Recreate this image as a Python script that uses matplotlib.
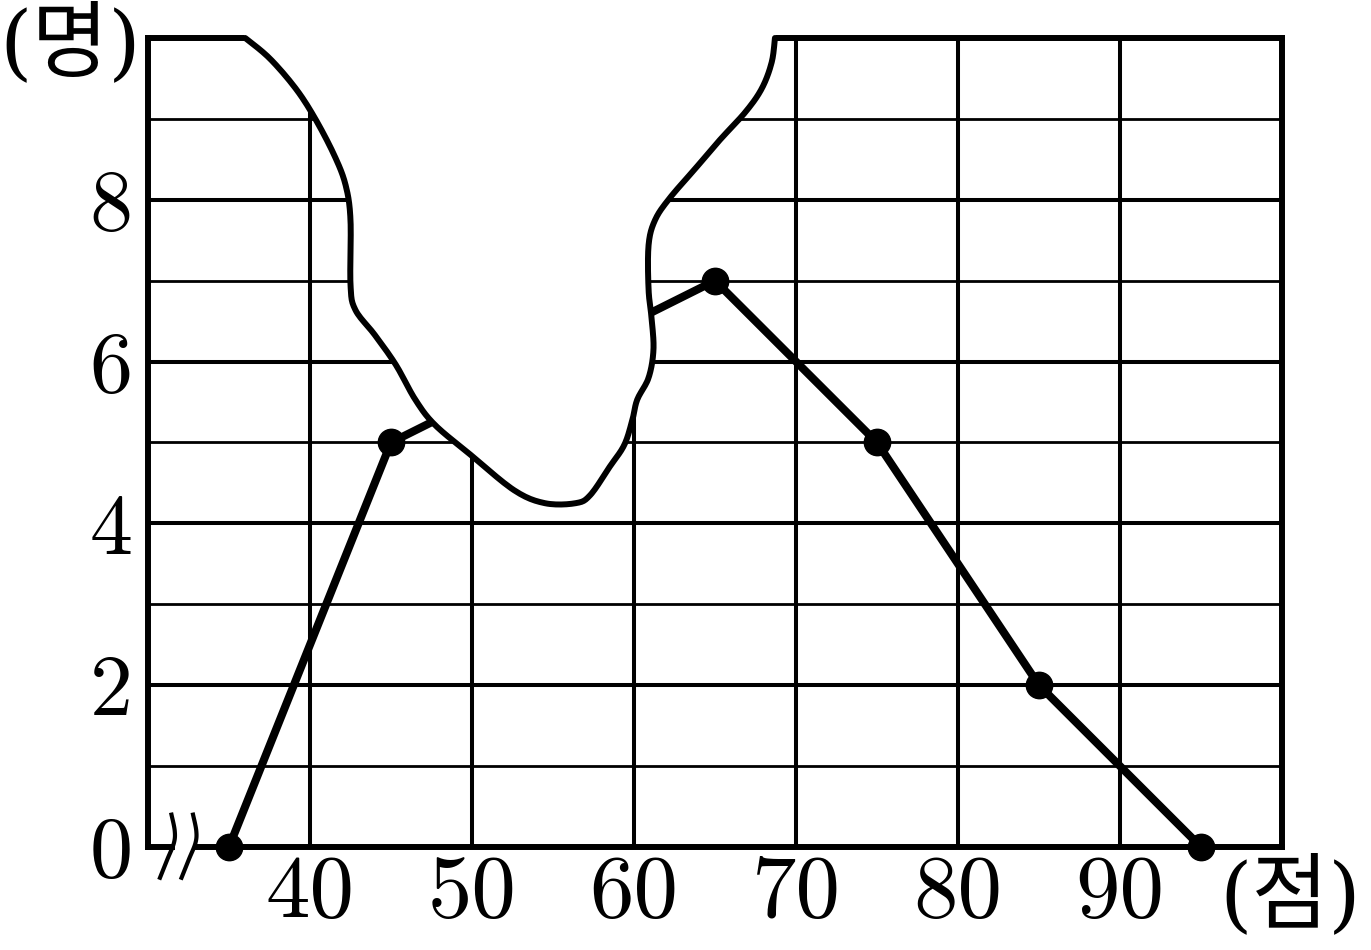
import numpy as np
import matplotlib.pyplot as plt

# 도수분포다각형 데이터 (55점 구간은 찢어진 부분에 가려짐)
scores = [35, 45, 55, 65, 75, 85, 95]
counts = [0, 5, 6, 7, 5, 2, 0]

x_ticks = [40, 50, 60, 70, 80, 90]
y_ticks = [0, 2, 4, 6, 8]

# 찢어진 부분의 테두리 (데이터 좌표)
tear_x = [36.0, 37.5, 39.1, 40.3, 41.5, 42.2, 42.5, 42.5, 42.8, 44.0, 45.3, 46.5,
          47.7, 49.9, 52.6, 54.5, 56.4, 57.3, 58.5, 59.4, 59.9, 60.2, 60.9, 61.2,
          61.1, 60.9, 60.9, 61.3, 62.2, 63.8, 65.3, 66.9, 67.9, 68.5, 68.7]
tear_y = [10.0, 9.75, 9.38, 9.01, 8.55, 8.18, 7.75, 6.95, 6.64, 6.33, 5.96, 5.53,
          5.22, 4.85, 4.41, 4.25, 4.25, 4.35, 4.70, 4.97, 5.28, 5.53, 5.80, 6.14,
          6.51, 6.89, 7.44, 7.75, 8.02, 8.39, 8.74, 9.09, 9.38, 9.70, 10.0]


def catmullRom(px, py, n=12):
    # 점들을 부드럽게 잇는 곡선
    p = np.column_stack([px, py])
    p = np.vstack([p[0], p, p[-1]])
    out = []
    for i in range(1, len(p) - 2):
        p0, p1, p2, p3 = p[i - 1], p[i], p[i + 1], p[i + 2]
        for t in np.linspace(0, 1, n, endpoint=False):
            t2, t3 = t * t, t * t * t
            out.append(0.5 * ((2 * p1) + (-p0 + p2) * t
                              + (2 * p0 - 5 * p1 + 4 * p2 - p3) * t2
                              + (-p0 + 3 * p1 - 3 * p2 + p3) * t3))
    out.append(p[-2])
    out = np.array(out)
    return out[:, 0], out[:, 1]


fig = plt.figure(figsize=(13.71, 9.5), dpi=100)
ax = fig.add_axes([148 / 1371, 1 - 847 / 950, (1282 - 148) / 1371, (847 - 38) / 950])
ax.set_xlim(30, 100)
ax.set_ylim(0, 10)

# 격자
for v in x_ticks:
    ax.axvline(v, color='black', lw=2.9, zorder=1)
for v in range(1, 10):
    ax.axhline(v, color='black', lw=2.9 if v % 2 == 0 else 2.0, zorder=1)

# 테두리
frame_lw = 4.3
for s in ['top', 'bottom']:
    ax.spines[s].set_visible(False)
for s in ['left', 'right']:
    ax.spines[s].set_linewidth(frame_lw)
ax.plot([30, 31.5], [0, 0], color='black', lw=frame_lw, clip_on=False,
        solid_capstyle='projecting', zorder=3)
ax.plot([33.1, 100], [0, 0], color='black', lw=frame_lw, clip_on=False,
        solid_capstyle='projecting', zorder=3)
ax.plot([30, 36.0], [10, 10], color='black', lw=frame_lw, clip_on=False,
        solid_capstyle='projecting', zorder=3)
ax.plot([68.7, 100], [10, 10], color='black', lw=frame_lw, clip_on=False,
        solid_capstyle='projecting', zorder=3)

# 생략 표시 (≈)
for dx in [0, 1.33]:
    bx, by = catmullRom([31.45 + dx, 31.65 + dx, 31.6 + dx, 31.2 + dx, 30.74 + dx],
                        [0.40, 0.20, 0.05, -0.15, -0.38])
    ax.plot(bx, by, color='black', lw=3.0, clip_on=False, zorder=3)

# 도수분포다각형
ax.plot(scores, counts, color='black', lw=5.8, zorder=3,
        marker='o', markersize=19, clip_on=False)

# 찢어진 부분
cx, cy = catmullRom(tear_x, tear_y)
fx = np.concatenate([cx, [cx[-1], cx[0]]])
fy = np.concatenate([cy, [10.3, 10.3]])
ax.fill(fx, fy, color='white', zorder=4, clip_on=False)
ax.plot(cx, cy, color='black', lw=4.3, zorder=5, clip_on=False,
        solid_capstyle='round', solid_joinstyle='round')

# 눈금
ax.set_xticks(x_ticks)
ax.set_xticklabels([str(v) for v in x_ticks], fontfamily='cmr10', fontsize=64)
ax.set_yticks(y_ticks)
ax.set_yticklabels([str(v) for v in y_ticks], fontfamily='cmr10', fontsize=62)
ax.tick_params(axis='x', length=0, pad=6)
ax.tick_params(axis='y', length=0, pad=11)

fig.text(70 / 1371, 1 - 45 / 950, '(명)', fontsize=60, ha='center', va='center',
         family=['DejaVu Serif', 'Noto Sans CJK KR'])
fig.text(1290 / 1371, 1 - 897 / 950, '(점)', fontsize=60, ha='center', va='center',
         family=['DejaVu Serif', 'Noto Sans CJK KR'])

fig.savefig('out.png', dpi=100)
